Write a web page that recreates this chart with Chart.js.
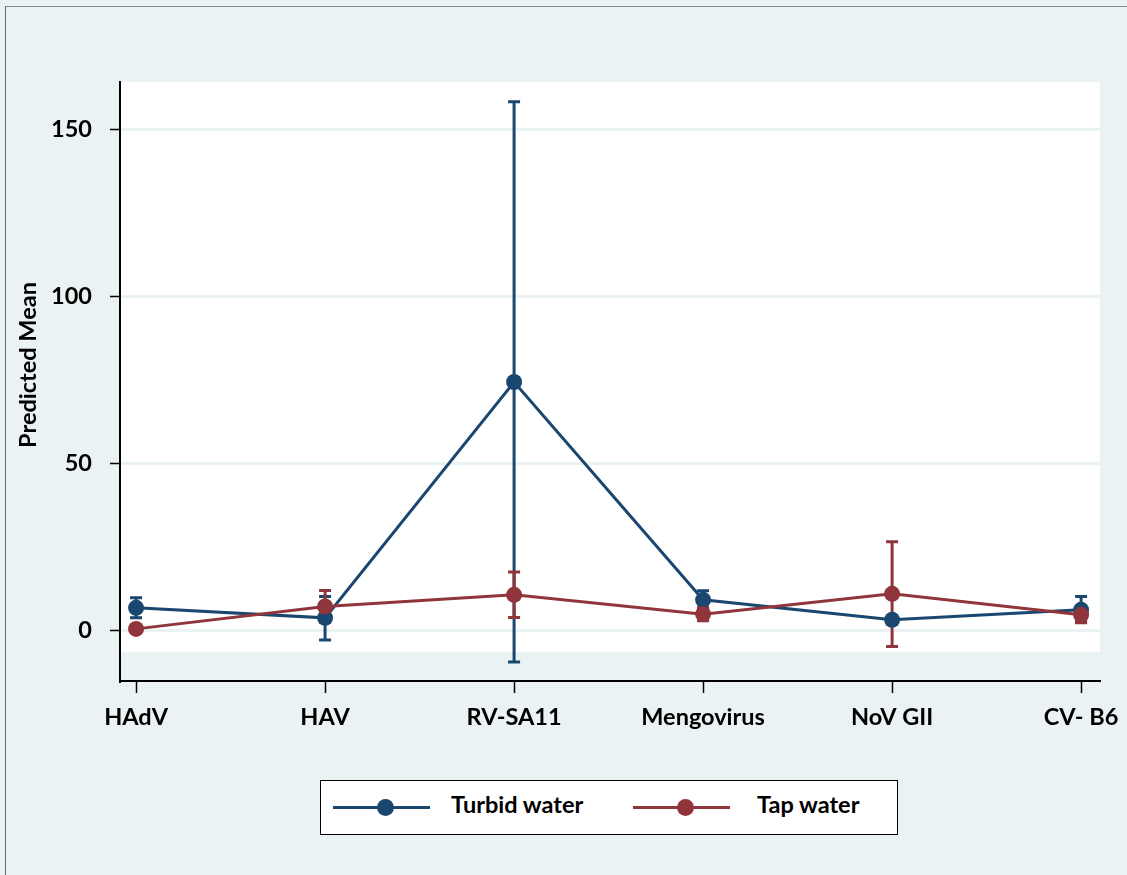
<!DOCTYPE html>
<html>
<head>
<meta charset="utf-8">
<script src="https://cdn.jsdelivr.net/npm/chart.js@4"></script>
<style>
  html, body { margin: 0; padding: 0; background: #eaf2f3; }
  #wrap { position: relative; width: 1127px; height: 875px; }
  #frame { position: absolute; left: 5px; top: 6px; right: 0; bottom: 0;
           border-left: 1px solid #666; border-top: 1px solid #888; pointer-events: none; }
  #legend { position: absolute; left: 320px; top: 780px; width: 576px; height: 53px;
            background: #fff; border: 1px solid #000; font: bold 23.5px Lato, sans-serif; }
  .ln { position: absolute; top: 25px; width: 97px; height: 3px; }
  .dot { position: absolute; top: 18px; width: 17px; height: 17px; border-radius: 50%; }
  .lbl { position: absolute; white-space: nowrap; top: 0; line-height: 47px; }
</style>
</head>
<body>
<div id="wrap">
  <canvas id="chart" width="1127" height="875"></canvas>
  <div id="frame"></div>
  <div id="legend">
    <div class="ln" style="left:12px;background:#1a476f"></div>
    <div class="dot" style="left:56px;background:#1a476f"></div>
    <div class="lbl" style="left:130px">Turbid water</div>
    <div class="ln" style="left:312px;background:#90353b"></div>
    <div class="dot" style="left:356px;background:#90353b"></div>
    <div class="lbl" style="left:436px">Tap water</div>
  </div>
</div>
<script>
// categories and values
const categories = ["HAdV", "HAV", "RV-SA11", "Mengovirus", "NoV GII", "CV- B6"];
const turbidMean  = [6.9, 3.9, 74.5, 9.3, 3.3, 6.3];
const turbidLower = [3.9, -2.7, -9.3, 6.6, 2.0, 2.8];
const turbidUpper = [9.9, 10.3, 158.4, 12.0, 4.6, 10.3];
const tapMean  = [0.6, 7.3, 10.8, 5.0, 11.1, 4.8];
const tapLower = [0.0, 2.5, 4.0, 3.0, -4.7, 2.4];
const tapUpper = [1.2, 12.1, 17.6, 7.0, 26.7, 7.2];
const yTicks = [0, 50, 100, 150];
const yTitle = "Predicted Mean";

const BLUE = "#1a476f";
const RED = "#90353b";
const BG = "#eaf2f3";

function pts(arr) {
    return arr.map((v, i) => ({ x: i, y: v }));
}

// white plot region (stops short of the x axis)
const plotRegion = {
    id: "plotRegion",
    beforeDraw(chart) {
        const { ctx, chartArea, scales } = chart;
        const bottom = scales.y.getPixelForValue(-6.3);
        ctx.save();
        ctx.fillStyle = "#fff";
        ctx.fillRect(chartArea.left, chartArea.top, chartArea.right - chartArea.left, bottom - chartArea.top);
        ctx.restore();
    },
    afterDraw(chart) {
        // y axis title, centred a bit above the middle like the original
        const { ctx } = chart;
        ctx.save();
        ctx.translate(28, 365);
        ctx.rotate(-Math.PI / 2);
        ctx.font = "bold 23.5px Lato, sans-serif";
        ctx.fillStyle = "#000";
        ctx.textAlign = "center";
        ctx.textBaseline = "middle";
        ctx.fillText(yTitle, 0, 0);
        ctx.restore();
    }
};

// error bars with caps
const errorBars = {
    id: "errorBars",
    beforeDatasetsDraw(chart) {
        const { ctx, scales } = chart;
        const sets = [
            { lo: turbidLower, hi: turbidUpper, color: BLUE },
            { lo: tapLower, hi: tapUpper, color: RED }
        ];
        ctx.save();
        ctx.lineWidth = 3;
        sets.forEach(s => {
            ctx.strokeStyle = s.color;
            s.lo.forEach((lo, i) => {
                const x = scales.x.getPixelForValue(i);
                const y1 = scales.y.getPixelForValue(lo);
                const y2 = scales.y.getPixelForValue(s.hi[i]);
                ctx.beginPath();
                ctx.moveTo(x, y1); ctx.lineTo(x, y2);
                ctx.moveTo(x - 6, y1); ctx.lineTo(x + 6, y1);
                ctx.moveTo(x - 6, y2); ctx.lineTo(x + 6, y2);
                ctx.stroke();
            });
        });
        ctx.restore();
    }
};

const font = { family: "Lato, sans-serif", weight: "bold", size: 23.5 };

new Chart(document.getElementById("chart"), {
    type: "line",
    data: {
        datasets: [
            {
                label: "Turbid water",
                data: pts(turbidMean),
                borderColor: BLUE,
                backgroundColor: BLUE,
                borderWidth: 3,
                pointRadius: 8,
                pointBorderWidth: 0,
                tension: 0,
                order: 1
            },
            {
                label: "Tap water",
                data: pts(tapMean),
                borderColor: RED,
                backgroundColor: RED,
                borderWidth: 3,
                pointRadius: 8,
                pointBorderWidth: 0,
                tension: 0,
                order: 0
            }
        ]
    },
    options: {
        responsive: false,
        animation: false,
        layout: { padding: { top: 82, right: 27, left: 0, bottom: 0 } },
        plugins: { legend: { display: false }, tooltip: { enabled: false } },
        scales: {
            x: {
                type: "linear",
                min: -0.085,
                max: 5.1,
                afterBuildTicks: s => { s.ticks = categories.map((c, i) => ({ value: i })); },
                afterFit: s => { s.height = 194; s.paddingLeft = 0; s.paddingRight = 0; },
                ticks: {
                    color: "#000",
                    font: font,
                    padding: 10,
                    maxRotation: 0,
                    autoSkip: false,
                    callback: v => categories[v]
                },
                grid: { drawOnChartArea: false, tickLength: 12, tickColor: "#000", tickWidth: 1.5 },
                border: { color: "#000", width: 2 }
            },
            y: {
                min: -15,
                max: 164.3,
                afterBuildTicks: s => { s.ticks = yTicks.map(v => ({ value: v })); },
                afterFit: s => { s.width = 120; },
                ticks: { color: "#000", font: font, padding: 18 },
                grid: { color: BG, lineWidth: 3, tickLength: 10, tickColor: "#000", tickWidth: 1.5 },
                border: { color: "#000", width: 2 }
            }
        }
    },
    plugins: [plotRegion, errorBars]
});
</script>
</body>
</html>
